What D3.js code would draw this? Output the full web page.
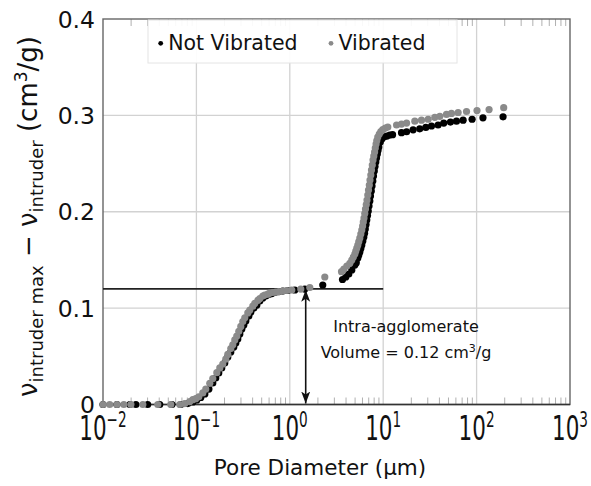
<!DOCTYPE html>
<html>
<head>
<meta charset="utf-8">
<script src="https://cdn.jsdelivr.net/npm/d3@7"></script>
<style>
  body { margin: 0; background: #fff; }
  svg { display: block; font-family: "DejaVu Sans", sans-serif; }
</style>
</head>
<body>
<svg width="591" height="486"></svg>
<script>
// pore diameter (um) and cumulative intruded volume (cm3/g)
var notVibDiam = [0.0100, 0.0141, 0.0194, 0.0225, 0.0301, 0.0405, 0.0547, 0.0681,
  0.0809, 0.0915, 0.101, 0.1115, 0.1232, 0.1361, 0.1498, 0.1612, 0.1736, 0.1869, 0.2012, 0.2168,
  0.2335, 0.2514, 0.2642, 0.2775, 0.2916, 0.3064, 0.3219, 0.3383, 0.3643, 0.3827, 0.4121, 0.4438,
  0.4774, 0.5141, 0.5536, 0.5961, 0.6419, 0.6912, 0.7628, 0.8416, 0.9519, 1.131, 1.447, 2.254,
  3.666, 3.977, 4.282, 4.612, 4.966, 5.15, 5.35, 5.48, 5.62, 5.76, 5.90, 6.05, 6.20, 6.32, 6.43,
  6.55, 6.67, 6.79, 6.92, 7.05, 7.19, 7.31, 7.46, 7.59, 7.74, 7.87, 8.03, 8.17, 8.33, 8.48, 8.65,
  8.80, 8.97, 9.31, 9.66, 10.15, 10.93, 11.77,
  12.6, 15.7, 17.8, 20.9, 24.6, 28.6, 32.9, 38.7, 44.5, 52.5, 60.9, 71.7, 89.5, 117, 192];
var notVibVol = [0, 0, 0, 0, 0, 0, 0, 0,
  0.001, 0.0026, 0.0047, 0.0073, 0.0109, 0.016, 0.0223, 0.0275, 0.0327, 0.0379, 0.043, 0.0493,
  0.0545, 0.0596, 0.0638, 0.068, 0.0731, 0.0783, 0.0825, 0.0866, 0.0918, 0.096, 0.1001, 0.1032,
  0.1074, 0.1105, 0.1126, 0.1141, 0.1151, 0.1162, 0.1172, 0.1177, 0.1183, 0.1188, 0.1198, 0.124,
  0.1297, 0.1323, 0.1354, 0.1396, 0.1447, 0.1471, 0.152, 0.1551, 0.1582, 0.1618, 0.1655, 0.1696,
  0.1737, 0.1778, 0.1821, 0.1867, 0.1914, 0.1961, 0.2007, 0.2059, 0.2111, 0.2163, 0.2215, 0.2267,
  0.2318, 0.237, 0.2422, 0.2469, 0.2516, 0.2557, 0.2599, 0.2635, 0.2671, 0.2723, 0.2754, 0.2775,
  0.2785, 0.2796,
  0.280, 0.282, 0.283, 0.285, 0.286, 0.2875, 0.289, 0.290, 0.292, 0.293, 0.294, 0.295, 0.296, 0.2975, 0.2985];

var vibDiam = [0.0100, 0.0118, 0.0141, 0.0167, 0.0199, 0.0267, 0.0386, 0.0532, 0.0664,
  0.0751, 0.0850, 0.0915, 0.0985, 0.1061, 0.1171, 0.1261, 0.1391, 0.1498, 0.1654, 0.1780, 0.1917,
  0.2064, 0.2168, 0.2335, 0.2453, 0.2577, 0.2707, 0.2844, 0.2988, 0.3139, 0.3298, 0.3551, 0.3730,
  0.4017, 0.4220, 0.4544, 0.4774, 0.5141, 0.5400, 0.5815, 0.6108, 0.6577, 0.7083, 0.7628, 0.8416,
  0.9287, 1.05, 1.311, 1.637, 2.370,
  3.58, 3.79, 4.08, 4.39, 4.61, 4.79, 4.97, 5.09, 5.22, 5.35, 5.48, 5.62, 5.76, 5.90, 6.02, 6.12,
  6.23, 6.35, 6.46, 6.59, 6.71, 6.84, 6.96, 7.10, 7.22, 7.37, 7.49, 7.64, 7.78, 7.93, 8.09, 8.23,
  8.39, 8.54, 8.75, 9.08, 9.43, 9.90, 10.53, 11.20,
  13.9, 15.7, 17.8, 21.8, 25.7, 30.3, 35.7, 40.4, 47.6, 53.8, 63.4, 78, 101, 136, 195];
var vibVol = [0, 0, 0, 0, 0, 0, 0, 0, 0,
  0.001, 0.003, 0.005, 0.006, 0.008, 0.012, 0.016, 0.022, 0.027, 0.033, 0.038, 0.042,
  0.047, 0.052, 0.058, 0.062, 0.067, 0.071, 0.076, 0.081, 0.086, 0.090, 0.095, 0.098,
  0.102, 0.105, 0.108, 0.110, 0.1125, 0.1135, 0.1145, 0.1157, 0.1162, 0.1167, 0.1172, 0.1177,
  0.1183, 0.1188, 0.1198, 0.1214, 0.1323,
  0.1378, 0.1406, 0.1437, 0.1465, 0.1499, 0.153, 0.1561, 0.1592, 0.1623, 0.1655, 0.1691, 0.1727,
  0.1769, 0.181, 0.1852, 0.1893, 0.1935, 0.1981, 0.2028, 0.2075, 0.2121, 0.2173, 0.2225, 0.2277,
  0.2329, 0.2381, 0.2433, 0.2485, 0.2536, 0.2578, 0.2619, 0.2661, 0.2702, 0.2739, 0.2775, 0.2806,
  0.2832, 0.2853, 0.2868, 0.2879,
  0.290, 0.291, 0.292, 0.294, 0.295, 0.296, 0.298, 0.299, 0.301, 0.302, 0.303, 0.304, 0.305, 0.306, 0.308];

var xTicks = [0.01, 0.1, 1, 10, 100, 1000];
var xTickExp = ["\u22122", "\u22121", "0", "1", "2", "3"];
var yTicks = [0, 0.1, 0.2, 0.3, 0.4];
var yTickLabels = ["0", "0.1", "0.2", "0.3", "0.4"];
var seriesNames = ["Not Vibrated", "Vibrated"];
var seriesColors = ["#000", "#8a8a8a"];
var plateauVol = 0.12;      // intra-agglomerate volume line
var plateauEnd = 10;        // line runs to 10 um
var arrowDiam = 1.48;

var svg = d3.select("svg");
var margin = { left: 103, right: 21, top: 19, bottom: 81.5 };
var width = 591 - margin.left - margin.right,
    height = 486 - margin.top - margin.bottom;

var x = d3.scaleLog().domain([0.01, 1000]).range([0, width]);
var y = d3.scaleLinear().domain([0, 0.4]).range([height, 0]);

var g = svg.append("g").attr("transform", "translate(" + margin.left + "," + margin.top + ")");

// grid
g.append("g").selectAll("line").data(xTicks.slice(1, -1)).enter().append("line")
    .attr("x1", d => x(d)).attr("x2", d => x(d))
    .attr("y1", 0).attr("y2", height)
    .attr("stroke", "#d2d2d2").attr("stroke-width", 1.3);
g.append("g").selectAll("line").data(yTicks.slice(1, -1)).enter().append("line")
    .attr("x1", 0).attr("x2", width)
    .attr("y1", d => y(d)).attr("y2", d => y(d))
    .attr("stroke", "#d2d2d2").attr("stroke-width", 1.3);

// minor ticks top and bottom
var minor = [];
for (var e = -2; e < 3; e++) for (var m = 2; m < 10; m++) minor.push(m * Math.pow(10, e));
g.append("g").selectAll("line").data(minor).enter().append("line")
    .attr("x1", d => x(d)).attr("x2", d => x(d))
    .attr("y1", height).attr("y2", height - 7)
    .attr("stroke", "#b0b0b0").attr("stroke-width", 1);
g.append("g").selectAll("line").data(minor).enter().append("line")
    .attr("x1", d => x(d)).attr("x2", d => x(d))
    .attr("y1", 0).attr("y2", 7)
    .attr("stroke", "#b0b0b0").attr("stroke-width", 1);

// frame
g.append("rect").attr("width", width).attr("height", height)
    .attr("fill", "none").attr("stroke", "#666").attr("stroke-width", 1.4);
g.append("line").attr("x1", 0).attr("x2", width).attr("y1", height).attr("y2", height)
    .attr("stroke", "#333").attr("stroke-width", 1.5);

// intra-agglomerate line + double arrow
svg.append("defs").selectAll("marker").data(["arr"]).enter().append("marker")
    .attr("id", d => d)
    .attr("viewBox", "0 -5 12 10")
    .attr("refX", 12).attr("refY", 0)
    .attr("markerWidth", 12).attr("markerHeight", 10)
    .attr("markerUnits", "userSpaceOnUse")
    .attr("orient", "auto-start-reverse")
    .append("path").attr("d", "M0,-4.5L12,0L0,4.5L3,0Z").attr("fill", "#111");

g.append("line")
    .attr("x1", 0).attr("x2", x(plateauEnd))
    .attr("y1", y(plateauVol)).attr("y2", y(plateauVol))
    .attr("stroke", "#222").attr("stroke-width", 1.6);
g.append("line")
    .attr("x1", x(arrowDiam)).attr("x2", x(arrowDiam))
    .attr("y1", y(plateauVol) + 1).attr("y2", y(0) - 1)
    .attr("stroke", "#111").attr("stroke-width", 1.6)
    .attr("marker-start", "url(#arr)").attr("marker-end", "url(#arr)");

// data
var series = [
  { name: seriesNames[0], color: seriesColors[0], pts: notVibDiam.map((d, i) => [d, notVibVol[i]]) },
  { name: seriesNames[1], color: seriesColors[1], pts: vibDiam.map((d, i) => [d, vibVol[i]]) }
];
series.forEach(function(s) {
  g.append("g").selectAll("circle").data(s.pts).enter().append("circle")
      .attr("cx", d => x(d[0])).attr("cy", d => y(d[1]))
      .attr("r", 3.6).attr("fill", s.color);
});

// annotation
var ann = g.append("text").attr("text-anchor", "middle")
    .attr("font-size", 16).attr("fill", "#111");
ann.append("tspan").attr("x", 406 - margin.left).attr("y", 332 - margin.top).text("Intra-agglomerate");
var l2 = ann.append("tspan").attr("x", 406 - margin.left).attr("y", 358 - margin.top);
l2.append("tspan").text("Volume = 0.12 cm");
l2.append("tspan").attr("font-size", 11).attr("dy", -6).text("3");
l2.append("tspan").attr("dy", 6).text("/g");

// legend
var leg = svg.append("g");
leg.append("rect").attr("x", 148).attr("y", 20).attr("width", 309).attr("height", 43)
    .attr("fill", "#fff").attr("fill-opacity", 0.92).attr("stroke", "#e4e4e4");
var legX = [160.7, 331];
series.forEach(function(s, i) {
  leg.append("circle").attr("cx", legX[i]).attr("cy", 43.3).attr("r", 2.4).attr("fill", s.color);
  leg.append("text").attr("x", legX[i] + 7.5).attr("y", 49.5)
      .attr("font-size", 20.5).attr("fill", "#111").text(s.name);
});

// y tick labels
g.append("g").selectAll("text").data(yTicks).enter().append("text")
    .attr("x", -8).attr("y", d => y(d) + 8.5)
    .attr("text-anchor", "end").attr("font-size", 23.5).attr("fill", "#111")
    .text((d, i) => yTickLabels[i]);

// x tick labels (tall, narrow)
var xl = g.append("g").selectAll("g").data(xTicks).enter().append("g")
    .attr("transform", d => "translate(" + x(d) + "," + (440 - margin.top) + ") scale(0.65,1)");
var xt = xl.append("text").attr("text-anchor", "middle").attr("fill", "#111");
xt.append("tspan").attr("font-size", 33).text("10");
xt.append("tspan").attr("font-size", 21).attr("dy", -13).text((d, i) => xTickExp[i]);

// axis titles
svg.append("text").attr("x", 320).attr("y", 475).attr("text-anchor", "middle")
    .attr("font-size", 21.5).attr("fill", "#111").text("Pore Diameter (\u03bcm)");

var yt = svg.append("text").attr("transform", "translate(37,397) rotate(-90)")
    .attr("fill", "#111").attr("font-size", 26);
yt.append("tspan").text("\u03bd");
yt.append("tspan").attr("font-size", 18).attr("dy", 6).text("intruder max");
yt.append("tspan").attr("dy", -6).text(" \u2212 \u03bd");
yt.append("tspan").attr("font-size", 18).attr("dy", 6).text("intruder");
yt.append("tspan").attr("dy", -6).text("  (cm");
yt.append("tspan").attr("font-size", 17).attr("dy", -10).text("3");
yt.append("tspan").attr("dy", 10).text("/g)");
</script>
</body>
</html>
